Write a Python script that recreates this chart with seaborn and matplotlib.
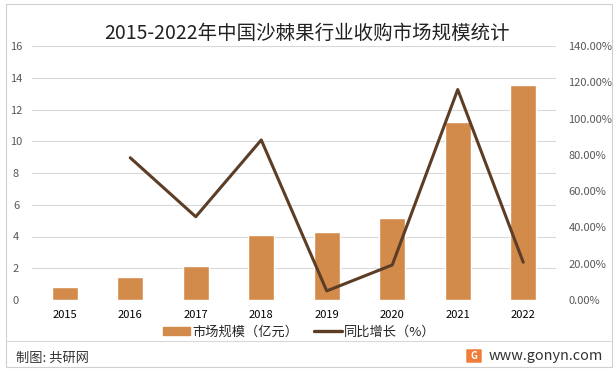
import matplotlib
matplotlib.use("Agg")
import matplotlib.pyplot as plt
import seaborn as sns
import pandas as pd
import numpy as np
from matplotlib.ticker import FuncFormatter, MultipleLocator
from matplotlib.patches import Rectangle, FancyBboxPatch
from matplotlib.lines import Line2D

years = ["2015", "2016", "2017", "2018", "2019", "2020", "2021", "2022"]
market_size = [0.82, 1.45, 2.14, 4.10, 4.29, 5.17, 11.19, 13.56]
growth_years = ["2016", "2017", "2018", "2019", "2020", "2021", "2022"]
growth_rate = [0.784, 0.459, 0.882, 0.050, 0.193, 1.160, 0.208]

title = "2015-2022年中国沙棘果行业收购市场规模统计"
bar_label = "市场规模（亿元）"
line_label = "同比增长（%）"

sns.set_theme(style="white")
plt.rcParams['font.family'] = ['Noto Sans CJK SC', 'DejaVu Sans']

BAR_C = "#D38B4C"
LINE_C = "#5C3D26"
TICK_C = "#595959"

fig = plt.figure(figsize=(6.16, 3.71), dpi=100)
ax = fig.add_axes([32/616, 1-300/371, 524/616, 254/371])

df = pd.DataFrame({"year": years, "size": market_size})
sns.barplot(data=df, x="year", y="size", color=BAR_C, width=0.40, ax=ax,
            saturation=1, order=years)
ax.set_ylim(0, 16)
ax.set_xlim(-0.5, 7.5)
ax.yaxis.set_major_locator(MultipleLocator(2))
ax.grid(axis="y", color="#D9D9D9", linewidth=0.8)
ax.set_axisbelow(True)
for s in ax.spines.values():
    s.set_visible(False)
ax.set_xlabel("")
ax.set_ylabel("")
ax.tick_params(axis="y", length=0, labelsize=8, colors=TICK_C, pad=11.5)
ax.tick_params(axis="x", length=0, labelsize=8, colors="#000000", pad=7)
plt.setp(ax.get_yticklabels(), ha="center")

ax2 = ax.twinx()
pos = [years.index(y) for y in growth_years]
dfl = pd.DataFrame({"x": pos, "g": growth_rate})
sns.lineplot(data=dfl, x="x", y="g", color=LINE_C, linewidth=2.2, ax=ax2)
ax2.set_ylim(0, 1.4)
ax2.yaxis.set_major_locator(MultipleLocator(0.2))
ax2.yaxis.set_major_formatter(FuncFormatter(lambda v, p: f"{v*100:.2f}%"))
ax2.tick_params(axis="y", length=0, labelsize=8, colors=TICK_C, pad=9)
for s in ax2.spines.values():
    s.set_visible(False)
ax2.set_xlabel("")
ax2.set_ylabel("")
ax2.set_xlim(-0.5, 7.5)

fig.text(307/616, 1-33/371, title, ha="center", va="center", fontsize=14, color="#222222")

handles = [Rectangle((0, 0), 1, 1, color=BAR_C),
           Line2D([0], [0], color=LINE_C, linewidth=2.4)]
fig.legend(handles, [bar_label, line_label], loc="center", bbox_to_anchor=(299/616, 1-332/371),
           ncol=2, frameon=False, fontsize=9.5, handlelength=2.1, handleheight=0.55,
           columnspacing=1.2, handletextpad=0.15)

fig.add_artist(Line2D([6/616, 611/616], [1-340.5/371, 1-340.5/371], color="#D9D9D9", linewidth=0.8,
                      transform=fig.transFigure))
# border
fig.add_artist(Rectangle((6/616, 1-366.5/371), 605.5/616, 363/371, fill=False, edgecolor="#D0D0D0",
                         linewidth=0.8, transform=fig.transFigure))

fig.text(16/616, 1-358/371, "制图: 共研网", ha="left", va="center", fontsize=9.5, color="#333333")
fig.add_artist(FancyBboxPatch((467.5/616, 1-362/371), 13/616, 12/371,
                              boxstyle="round,pad=0.002", facecolor="#F07C3A", edgecolor="none",
                              transform=fig.transFigure))
fig.text(474/616, 1-356/371, "G", ha="center", va="center", fontsize=7, color="white",
         fontweight="bold")
fig.text(489/616, 1-356/371, "www.gonyn.com", ha="left", va="center", fontsize=10.4, color="#333333")

fig.savefig("out.png", dpi=100)
